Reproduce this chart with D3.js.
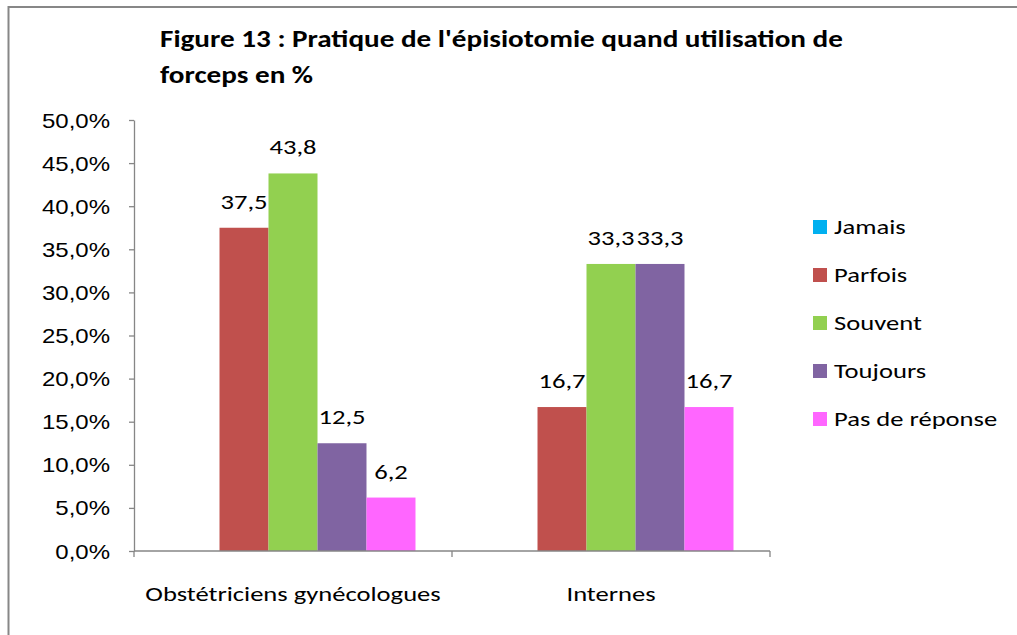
<!DOCTYPE html>
<html>
<head>
<meta charset="utf-8">
<script src="https://cdn.jsdelivr.net/npm/d3@7"></script>
<style>
  html, body { margin: 0; padding: 0; background: #fff; }
  svg { display: block; font-family: Carlito, Calibri, Lato, sans-serif; }
</style>
</head>
<body>
<svg id="chart" width="1017" height="635"></svg>
<script>
const categories = ["Obstétriciens gynécologues", "Internes"];
const seriesNames = ["Jamais", "Parfois", "Souvent", "Toujours", "Pas de réponse"];
const seriesColors = ["#00B0F0", "#C0504D", "#92D050", "#8064A2", "#FF66FF"];
const valuesJamais = [0, 0];
const valuesParfois = [37.5, 16.7];
const valuesSouvent = [43.8, 33.3];
const valuesToujours = [12.5, 33.3];
const valuesPasDeReponse = [6.2, 16.7];
const yTicks = [0, 5, 10, 15, 20, 25, 30, 35, 40, 45, 50];
const titleLines = ["Figure 13 : Pratique de l'épisiotomie quand utilisation de", "forceps en %"];

const seriesValues = [valuesJamais, valuesParfois, valuesSouvent, valuesToujours, valuesPasDeReponse];

const svg = d3.select("#chart");
const W = 1017, H = 635;
const SX = 1.33;      // horizontal stretch of regular text
const SX_Y = 1.2;     // horizontal stretch of y tick labels
const SX_T = 1.215;   // horizontal stretch of title text

function placeStretched(sel, xf, yf, sx) {
  sel.attr("x", 0).attr("y", 0)
     .attr("transform", (d, i) => `translate(${typeof xf === "function" ? xf(d, i) : xf},${typeof yf === "function" ? yf(d, i) : yf}) scale(${sx},1)`);
}

// outer frame (partially visible)
svg.append("rect").attr("x", 8.5).attr("y", 7).attr("width", W + 20).attr("height", H + 20)
  .attr("fill", "none").attr("stroke", "#878787").attr("stroke-width", 2);

const plot = { left: 134, right: 770, top: 120, bottom: 551 };

const y = d3.scaleLinear().domain([0, 50]).range([plot.bottom, plot.top]);
const x0 = d3.scaleBand().domain(categories).range([plot.left, plot.right]).paddingInner(0).paddingOuter(0);
const x1 = d3.scaleBand().domain(seriesNames).range([0, x0.bandwidth()]).paddingInner(0).paddingOuter(0.745);
const color = d3.scaleOrdinal().domain(seriesNames).range(seriesColors);

const axisColor = "#868686";
const fmt = v => d3.format(".1f")(v).replace(".", ",") + "%";

// Y axis
const yAxis = svg.append("g").attr("transform", `translate(${plot.left},0)`)
  .call(d3.axisLeft(y).tickValues(yTicks).tickFormat(fmt).tickSize(5).tickSizeOuter(0).tickPadding(19));
yAxis.select(".domain").attr("stroke", axisColor).attr("stroke-width", 1.3);
yAxis.selectAll(".tick line").attr("stroke", axisColor).attr("stroke-width", 1.3);
yAxis.selectAll(".tick text").attr("fill", "#000").style("font-size", "20px")
  .attr("dy", "0.35em")
  .attr("x", -24 / SX_Y).attr("transform", `scale(${SX_Y},1)`);

// bars
const groups = svg.append("g").selectAll("g").data(categories).join("g")
  .attr("transform", d => `translate(${x0(d)},0)`);

groups.each(function(cat, ci) {
  const g = d3.select(this);
  seriesNames.forEach((s, si) => {
    const v = seriesValues[si][ci];
    g.append("rect")
      .attr("x", x1(s)).attr("width", x1.bandwidth())
      .attr("y", y(v)).attr("height", y(0) - y(v))
      .attr("fill", color(s));
    if (v > 0) {
      const t = g.append("text")
        .attr("text-anchor", "middle")
        .style("font-size", "20px")
        .attr("fill", "#000")
        .text(d3.format(".1f")(v).replace(".", ","));
      placeStretched(t, x1(s) + x1.bandwidth() / 2, y(v) - 19, SX);
    }
  });
});

// X axis
const xAxisG = svg.append("g").attr("transform", `translate(0,${plot.bottom})`);
xAxisG.append("line").attr("x1", plot.left).attr("x2", plot.right).attr("y1", 0).attr("y2", 0)
  .attr("stroke", axisColor).attr("stroke-width", 1.3);
const boundaries = [plot.left].concat(categories.map(c => x0(c) + x0.bandwidth()));
xAxisG.selectAll("line.tk").data(boundaries).join("line").attr("class", "tk")
  .attr("x1", d => d).attr("x2", d => d).attr("y1", 0).attr("y2", 6)
  .attr("stroke", axisColor).attr("stroke-width", 1.3);
const catText = xAxisG.selectAll("text.cat").data(categories).join("text").attr("class", "cat")
  .attr("text-anchor", "middle").style("font-size", "20px").attr("fill", "#000")
  .text(d => d);
placeStretched(catText, d => x0(d) + x0.bandwidth() / 2, 50, SX);

// title
const tt = svg.append("g").selectAll("text").data(titleLines).join("text")
  .style("font-size", "24px").style("font-weight", "bold").attr("fill", "#000")
  .text(d => d);
placeStretched(tt, 160, (d, i) => 47 + i * 36, SX_T);

// legend
const legend = svg.append("g").attr("transform", "translate(813,227)");
const li = legend.selectAll("g").data(seriesNames).join("g")
  .attr("transform", (d, i) => `translate(0,${i * 48})`);
li.append("rect").attr("x", 0).attr("y", -7).attr("width", 14).attr("height", 14).attr("fill", d => color(d));
const lt = li.append("text").style("font-size", "20px").attr("fill", "#000").text(d => d);
placeStretched(lt, 21, 7, SX);
</script>
</body>
</html>
